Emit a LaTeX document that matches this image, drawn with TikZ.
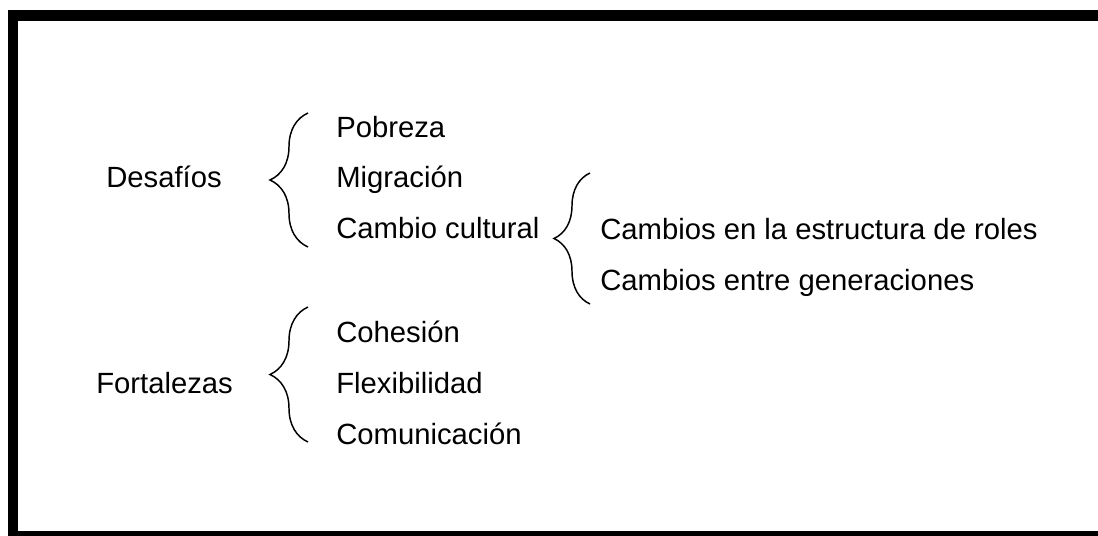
\documentclass[tikz,border=0pt]{standalone}
\usepackage{fontspec}
\setmainfont{Liberation Sans}
\usetikzlibrary{decorations.pathreplacing}

\begin{document}
\begin{tikzpicture}[x=0.025cm,
    y=-0.025cm,
    word/.style = {
      anchor = base west,
      inner sep = 0pt,
      font = \fontsize{20.8pt}{25pt}\selectfont
    },
    curly/.style = {
      decorate,
      line width = 1.05pt,
      decoration = {brace, amplitude=#1}
    }
  ]
  \useasboundingbox (0,0) rectangle (1098,535);
  \clip (0,0) rectangle (1098,535);

  \draw[line width=7.8pt] (1120,15.5) -- (13,15.5) -- (13,536.5) -- (1120,536.5);

  \node[word] (desafios) at (106,187) {Desafíos};
  \node[word] (pobreza) at (336,137) {Pobreza};
  \node[word] (migracion) at (336,187) {Migración};
  \node[word] (cambio) at (336,238) {Cambio cultural};

  \node[word] (roles) at (600,239) {Cambios en la estructura de roles};
  \node[word] (generaciones) at (600,290) {Cambios entre generaciones};

  \node[word] (fortalezas) at (96,393) {Fortalezas};
  \node[word] (cohesion) at (336,342) {Cohesión};
  \node[word] (flexibilidad) at (336,393) {Flexibilidad};
  \node[word] (comunicacion) at (336,444) {Comunicación};

  \coordinate (b1a) at (308,247);
  \coordinate (b1b) at (308,113);
  \coordinate (b2a) at (590,304);
  \coordinate (b2b) at (590,173);
  \coordinate (b3a) at (308,442);
  \coordinate (b3b) at (308,307);

  \draw[curly=0.95cm] (b1a) -- (b1b);
  \draw[curly=0.9cm] (b2a) -- (b2b);
  \draw[curly=0.95cm] (b3a) -- (b3b);
\end{tikzpicture}
\end{document}
